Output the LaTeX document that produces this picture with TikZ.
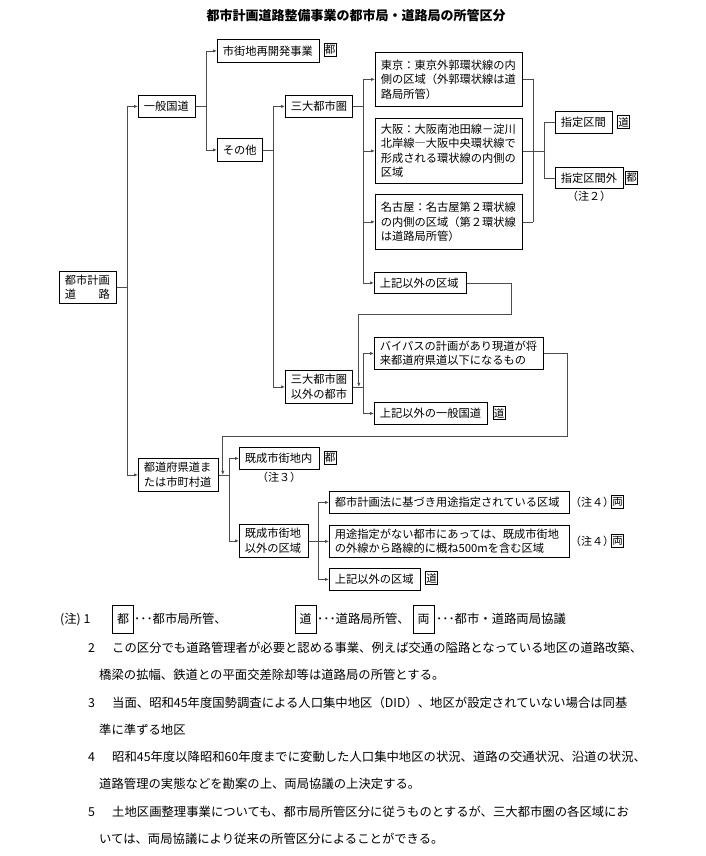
\documentclass[tikz,border=0pt]{standalone}
\usepackage{fontspec}
\setmainfont{Noto Sans CJK JP}
\usetikzlibrary{arrows.meta}
\begin{document}
\begin{tikzpicture}[x=1pt,y=-1pt,
  box/.style={draw=black, line width=0.8pt, inner xsep=5.5pt, inner ysep=1pt, align=left,
    font=\fontsize{11.25}{14.5}\selectfont, anchor=north west},
  kmark/.style={draw=black, line width=0.9pt, inner sep=0pt, minimum width=12pt, minimum height=13pt,
    font=\fontsize{10.5}{11}\selectfont},
  nmark/.style={draw=black, line width=0.7pt, inner sep=0pt, minimum width=21pt, minimum height=28pt,
    font=\fontsize{12}{13}\selectfont},
  conn/.style={draw=black!70, line width=0.75pt},
  arr/.style={conn, -{Latex[length=4pt,width=3.2pt]}},
  note/.style={anchor=base west, inner sep=0pt, font=\fontsize{12.35}{14}\selectfont},
  lbl/.style={inner sep=0pt, font=\fontsize{11}{12}\selectfont}
]
\useasboundingbox[fill=white] (0,0) rectangle (705,856);

% title
\node[inner sep=0pt, font=\fontsize{13}{14}\selectfont\bfseries] (title) at (356,16) {都市計画道路整備事業の都市局・道路局の所管区分};

% boxes
\node[box, text width=46pt, minimum height=32pt] (toshi) at (59,271) {都市計画\\道　　路};
\node[box, text width=46pt, minimum height=22pt] (ippan) at (138,95) {一般国道};
\node[box, text width=91pt, minimum height=23pt] (shigai) at (217,39) {市街地再開発事業};
\node[box, text width=34pt, minimum height=23pt] (sonota) at (217,138) {その他};
\node[box, text width=56pt, minimum height=22pt] (sandai) at (285,95) {三大都市圏};
\node[box, text width=136pt, minimum height=54pt] (tokyo) at (375,52) {東京：東京外郭環状線の内\\側の区域（外郭環状線は道\\路局所管）};
\node[box, text width=136pt, minimum height=65pt] (osaka) at (375,118) {大阪：大阪南池田線－淀川\\北岸線―大阪中央環状線で\\形成される環状線の内側の\\区域};
\node[box, text width=136pt, minimum height=55pt] (nagoya) at (375,194) {名古屋：名古屋第２環状線\\の内側の区域（第２環状線\\は道路局所管）};
\node[box, text width=46pt, minimum height=22pt] (shitei) at (555,111) {指定区間};
\node[box, text width=57pt, minimum height=21pt] (shiteigai) at (555,167) {指定区間外};
\node[box, text width=81pt, minimum height=21pt] (jouki1) at (374,272) {上記以外の区域};
\node[box, text width=56pt, minimum height=33pt] (sandaigai) at (285,370) {三大都市圏\\以外の都市};
\node[box, text width=158pt, minimum height=32pt] (bypass) at (374,337) {バイパスの計画があり現道が将\\来都道府県道以下になるもの};
\node[box, text width=102pt, minimum height=22pt] (joukiippan) at (374,402) {上記以外の一般国道};
\node[box, text width=69pt, minimum height=33pt] (todofuken) at (138,458) {都道府県道ま\\たは市町村道};
\node[box, text width=69pt, minimum height=22pt] (kisei) at (239,447) {既成市街地内};
\node[box, text width=58pt, minimum height=33pt] (kiseigai) at (239,524) {既成市街地\\以外の区域};
\node[box, text width=229pt, minimum height=22pt] (tkeikaku) at (329,491) {都市計画法に基づき用途指定されている区域};
\node[box, text width=229pt, minimum height=32pt] (youto) at (329,525) {用途指定がない都市にあっては、既成市街地\\の外線から路線的に概ね500mを含む区域};
\node[box, text width=80pt, minimum height=22pt] (jouki2) at (329,568) {上記以外の区域};

% marks
\node[kmark] (m1) at (330,49.5) {都};
\node[kmark] (m2) at (623.5,122) {道};
\node[kmark] (m3) at (631.5,177.5) {都};
\node[kmark] (m4) at (499,413) {道};
\node[kmark] (m5) at (330,458) {都};
\node[kmark] (m6) at (617.5,502) {両};
\node[kmark] (m7) at (617.5,541) {両};
\node[kmark] (m8) at (431.5,578) {道};

% labels
\node[lbl] (n2) at (589,196) {（注２）};
\node[lbl] (n3) at (279,477) {（注３）};
\node[lbl] (n4a) at (592,502) {（注４）};
\node[lbl] (n4b) at (592,541) {（注４）};

% connectors
\coordinate (v1) at (127,0);
\coordinate (v2) at (206,0);
\coordinate (v3) at (273,0);
\coordinate (v4) at (363,0);
\coordinate (v5) at (533,0);
\coordinate (v6) at (544,0);
\coordinate (v8) at (229,0);
\coordinate (v9) at (318,0);
\coordinate (r1) at (511,314);
\coordinate (r2) at (567,436);

\draw[conn] (toshi.east) -- (toshi.east -| v1);
\draw[conn] (ippan.west -| v1) -- (todofuken.west -| v1);
\draw[arr] (ippan.west -| v1) -- (ippan.west);
\draw[arr] (todofuken.west -| v1) -- (todofuken.west);

\draw[conn] (ippan.east) -- (ippan.east -| v2);
\draw[conn] (shigai.west -| v2) -- (sonota.west -| v2);
\draw[arr] (shigai.west -| v2) -- (shigai.west);
\draw[arr] (sonota.west -| v2) -- (sonota.west);

\draw[conn] (sonota.east) -- (sonota.east -| v3);
\draw[conn] (sandai.west -| v3) -- (sandaigai.west -| v3);
\draw[arr] (sandai.west -| v3) -- (sandai.west);
\draw[arr] (sandaigai.west -| v3) -- (sandaigai.west);

\draw[conn] (sandai.east) -- (sandai.east -| v4);
\draw[conn] (tokyo.west -| v4) -- (jouki1.west -| v4);
\draw[arr] (tokyo.west -| v4) -- (tokyo.west);
\draw[arr] (osaka.west -| v4) -- (osaka.west);
\draw[arr] (nagoya.west -| v4) -- (nagoya.west);
\draw[arr] (jouki1.west -| v4) -- (jouki1.west);

\draw[conn] (tokyo.east) -- (tokyo.east -| v5);
\draw[conn] (osaka.east) -- (osaka.east -| v6);
\draw[conn] (nagoya.east) -- (nagoya.east -| v5);
\draw[conn] (tokyo.east -| v5) -- (nagoya.east -| v5);
\draw[conn] (shitei.west -| v6) -- (shiteigai.west -| v6);
\draw[conn] (shitei.west -| v6) -- (shitei.west);
\draw[conn] (shiteigai.west -| v6) -- (shiteigai.west);

\draw[arr] (jouki1.east) -| (r1) -| ([xshift=6pt]sandaigai.east);

\draw[conn] (sandaigai.east) -- (sandaigai.east -| v4);
\draw[conn] (bypass.west -| v4) -- (joukiippan.west -| v4);
\draw[arr] (bypass.west -| v4) -- (bypass.west);
\draw[arr] (joukiippan.west -| v4) -- (joukiippan.west);

\draw[arr] (bypass.east) -| (r2) -| ([xshift=4pt]todofuken.east);

\draw[conn] (todofuken.east) -- (todofuken.east -| v8);
\draw[conn] (kisei.west -| v8) -- (kiseigai.west -| v8);
\draw[arr] (kisei.west -| v8) -- (kisei.west);
\draw[arr] (kiseigai.west -| v8) -- (kiseigai.west);

\draw[conn] (kiseigai.east) -- (kiseigai.east -| v9);
\draw[conn] (tkeikaku.west -| v9) -- (jouki2.west -| v9);
\draw[arr] (tkeikaku.west -| v9) -- (tkeikaku.west);
\draw[arr] (youto.west -| v9) -- (youto.west);
\draw[arr] (jouki2.west -| v9) -- (jouki2.west);

% notes
\node[note] (l1a) at (60,623.7) {(注) 1};
\node[nmark] (nm1) at (123,619) {都};
\node[note] (l1b) at (134,623.7) {･･･都市局所管、};
\node[nmark] (nm2) at (305.5,619) {道};
\node[note] (l1c) at (317,623.7) {･･･道路局所管、};
\node[nmark] (nm3) at (423.5,619) {両};
\node[note] (l1d) at (436,623.7) {･･･都市・道路両局協議};

\node[note] (l2n) at (88,652.7) {2};
\node[note] (l2) at (112,652.7) {この区分でも道路管理者が必要と認める事業、例えば交通の隘路となっている地区の道路改築、};
\node[note] (l2b) at (99,679.7) {橋梁の拡幅、鉄道との平面交差除却等は道路局の所管とする。};
\node[note] (l3n) at (88,707.7) {3};
\node[note] (l3) at (112,707.7) {当面、昭和45年度国勢調査による人口集中地区（DID）、地区が設定されていない場合は同基};
\node[note] (l3b) at (99,734.7) {準に準ずる地区};
\node[note] (l4n) at (88,761.7) {4};
\node[note] (l4) at (112,761.7) {昭和45年度以降昭和60年度までに変動した人口集中地区の状況、道路の交通状況、沿道の状況、};
\node[note] (l4b) at (99,788.7) {道路管理の実態などを勘案の上、両局協議の上決定する。};
\node[note] (l5n) at (88,816.7) {5};
\node[note] (l5) at (112,816.7) {土地区画整理事業についても、都市局所管区分に従うものとするが、三大都市圏の各区域にお};
\node[note] (l5b) at (99,843.7) {いては、両局協議により従来の所管区分によることができる。};
\end{tikzpicture}
\end{document}
